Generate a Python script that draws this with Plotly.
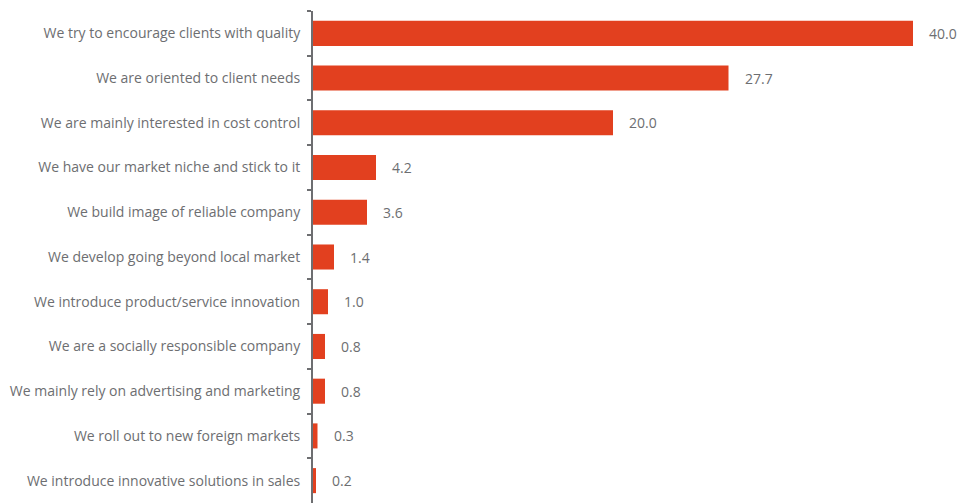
import plotly.graph_objects as go

# Survey answers (share of respondents, %)
categories = [
    "We try to encourage clients with quality",
    "We are oriented to client needs",
    "We are mainly interested in cost control",
    "We have our market niche and stick to it",
    "We build image of reliable company",
    "We develop going beyond local market",
    "We introduce product/service innovation",
    "We are a socially responsible company",
    "We mainly rely on advertising and marketing",
    "We roll out to new foreign markets",
    "We introduce innovative solutions in sales",
]
values = [40.0, 27.7, 20.0, 4.2, 3.6, 1.4, 1.0, 0.8, 0.8, 0.3, 0.2]

BAR_COLOR = "#e2401f"
AXIS_COLOR = "#6d6e71"
TEXT_COLOR = "#6d6e71"
FONT = "Open Sans, Noto Sans, sans-serif"

fig = go.Figure(
    go.Bar(
        x=values,
        y=categories,
        orientation="h",
        marker=dict(color=BAR_COLOR, line=dict(width=0)),
        width=0.56,
        hoverinfo="x+y",
    )
)

# Value labels to the right of each bar
for cat, val in zip(categories, values):
    fig.add_annotation(
        x=val, y=cat, text=f"{val:.1f}",
        xanchor="left", yanchor="middle", xshift=14, showarrow=False,
        font=dict(family=FONT, size=14, color=TEXT_COLOR),
    )

fig.update_layout(
    width=967, height=504,
    margin=dict(l=313, r=54, t=11, b=1),
    paper_bgcolor="white", plot_bgcolor="white",
    showlegend=False,
    font=dict(family=FONT, size=14, color=TEXT_COLOR),
    xaxis=dict(range=[0, 40], visible=False, fixedrange=True),
    yaxis=dict(
        autorange="reversed",
        showline=True, linecolor=AXIS_COLOR, linewidth=2,
        ticks="outside", tickson="boundaries", ticklen=4,
        tickwidth=2, tickcolor=AXIS_COLOR,
        ticklabelstandoff=8,
        showgrid=False, zeroline=False,
        tickfont=dict(family=FONT, size=14, color=TEXT_COLOR),
        fixedrange=True,
    ),
)

fig.write_html("out.html")
